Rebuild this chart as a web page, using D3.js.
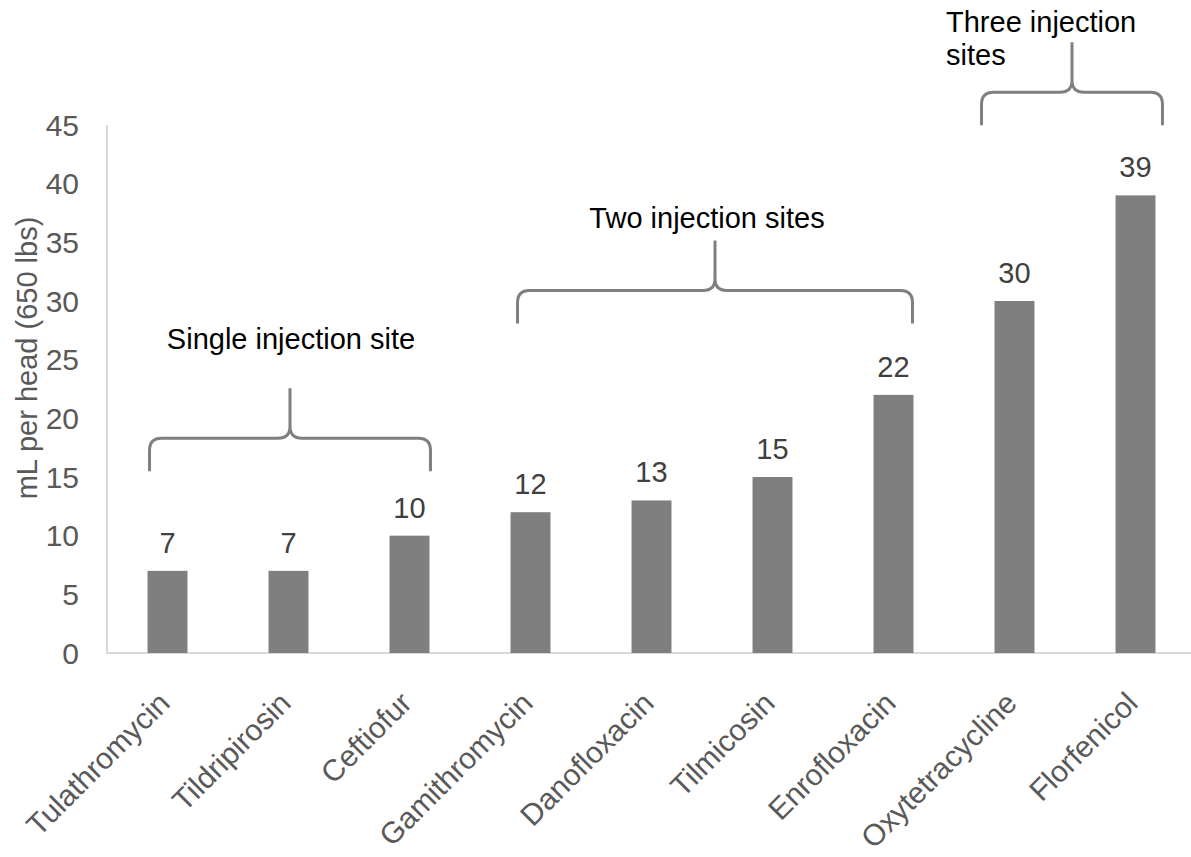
<!DOCTYPE html>
<html><head><meta charset="utf-8">
<script src="https://cdn.jsdelivr.net/npm/d3@7/dist/d3.min.js"></script>
<style>body{margin:0;background:#fff}svg text{font-family:"Liberation Sans",Arial,sans-serif}</style>
</head><body><svg id="c" width="1191" height="857"></svg>
<script>
const categories = ["Tulathromycin","Tildripirosin","Ceftiofur","Gamithromycin","Danofloxacin","Tilmicosin","Enrofloxacin","Oxytetracycline","Florfenicol"];
const values = [7,7,10,12,13,15,22,30,39];
const yTicks = [0,5,10,15,20,25,30,35,40,45];
const groupLabels = [["Single injection site"],["Two injection sites"],["Three injection","sites"]];
const groupStart = [0,3,7];
const groupEnd = [2,6,8];
const groupLevel = [18.3,30.9,47.8];

const svg = d3.select("#c");
const x = d3.scaleBand().domain(categories).range([107,1196]).paddingInner(0.67).paddingOuter(0.335);
const y = d3.scaleLinear().domain([0,45]).range([653,125]);

// axes lines
svg.append("line").attr("x1",107).attr("x2",107).attr("y1",y(45)).attr("y2",y(0)).attr("stroke","#d9d9d9").attr("stroke-width",2);
svg.append("line").attr("x1",106).attr("x2",1191).attr("y1",y(0)).attr("y2",y(0)).attr("stroke","#d9d9d9").attr("stroke-width",2);

// y ticks
svg.append("g").selectAll("text").data(yTicks).join("text")
  .attr("x",79).attr("y",d=>y(d)).attr("dy","0.36em").attr("text-anchor","end")
  .attr("font-size",30).attr("fill","#595959").text(d=>d);

svg.append("text").attr("transform","translate(37,358) rotate(-90)").attr("text-anchor","middle")
  .attr("font-size",29).attr("fill","#595959").text("mL per head (650 lbs)");

// bars
svg.append("g").selectAll("rect").data(values).join("rect")
  .attr("x",(d,i)=>x(categories[i])).attr("width",x.bandwidth())
  .attr("y",d=>y(d)).attr("height",d=>y(0)-y(d)).attr("fill","#7f7f7f");

// value labels
svg.append("g").selectAll("text").data(values).join("text")
  .attr("x",(d,i)=>x(categories[i])+x.bandwidth()/2).attr("y",d=>y(d)-18)
  .attr("text-anchor","middle").attr("font-size",29).attr("fill","#404040").text(d=>d);

// category labels
svg.append("g").selectAll("text").data(categories).join("text")
  .attr("transform",d=>`translate(${x(d)+x.bandwidth()/2+4},${705}) rotate(-45)`)
  .attr("text-anchor","end").attr("font-size",30).attr("fill","#595959").text(d=>d);

// braces
const r = 12;
groupStart.forEach((s,i)=>{
  const x0 = x(categories[s]) - (i===2?13:(i===1?-7:-2));
  const x1 = x(categories[groupEnd[i]]) + x.bandwidth() + (i===0?1:(i===1?-1:7));
  const yh = y(groupLevel[i]);
  const yb = yh + 33;
  const yt = yh - 50;
  const xm = (x0+x1)/2;
  const p = d3.path();
  p.moveTo(x0,yb); p.lineTo(x0,yh+r); p.quadraticCurveTo(x0,yh,x0+r,yh);
  p.lineTo(xm-r,yh); p.quadraticCurveTo(xm,yh,xm,yh-r); p.lineTo(xm,yt);
  p.moveTo(xm,yh-r); p.quadraticCurveTo(xm,yh,xm+r,yh);
  p.lineTo(x1-r,yh); p.quadraticCurveTo(x1,yh,x1,yh+r); p.lineTo(x1,yb);
  svg.append("path").attr("d",p.toString()).attr("fill","none").attr("stroke","#7f7f7f").attr("stroke-width",3);
});

// group labels
const labelPos = [[291,349,"middle"],[707,228,"middle"],[946,32,"start"]];
groupLabels.forEach((lines,i)=>{
  const t = svg.append("text").attr("font-size",29).attr("fill","#000").attr("text-anchor",labelPos[i][2]);
  lines.forEach((l,j)=>t.append("tspan").attr("x",labelPos[i][0]).attr("y",labelPos[i][1]+j*33).text(l));
});
</script></body></html>
